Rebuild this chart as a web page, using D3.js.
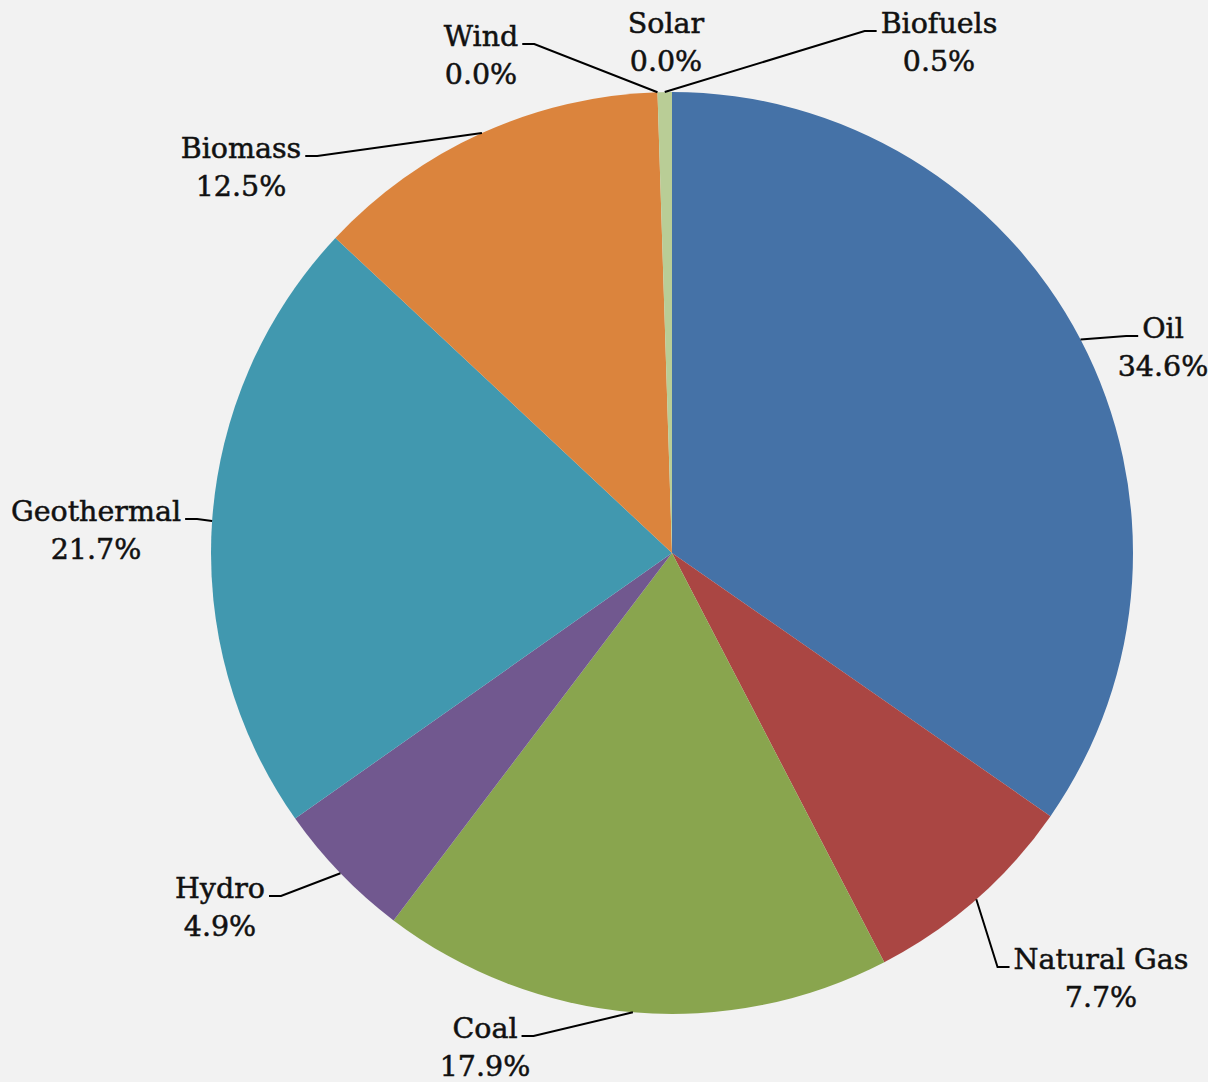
<!DOCTYPE html>
<html>
<head>
<meta charset="utf-8">
<script src="https://cdn.jsdelivr.net/npm/d3@7/dist/d3.min.js"></script>
<style>
  html, body { margin: 0; padding: 0; background: #f2f2f2; }
  svg { display: block; }
  .lbl { font-family: "DejaVu Serif", "Liberation Serif", serif; font-size: 28.5px; fill: #111; stroke: #111; stroke-width: 0.5px; }
</style>
</head>
<body>
<svg id="chart" width="1208" height="1082"></svg>
<script>
// Energy mix shares (%), clockwise from 12 o'clock
const categories = ["Oil", "Natural Gas", "Coal", "Hydro", "Geothermal", "Biomass", "Wind", "Solar", "Biofuels"];
const shares     = [34.6, 7.7, 17.9, 4.9, 21.7, 12.5, 0.0, 0.0, 0.5];
const colors     = ["#4572a7", "#aa4643", "#89a54e", "#71588f", "#4198af", "#db843d", "#93a9cf", "#d19392", "#b9cd96"];

// Label placement: centre x, first baseline y, side where the leader line attaches
const labelLayout = {
  "Oil":         { x: 1163, y: 338,  side: "left"  },
  "Natural Gas": { x: 1101, y: 969,  side: "left"  },
  "Coal":        { x: 485,  y: 1038, side: "right" },
  "Hydro":       { x: 220,  y: 898,  side: "right" },
  "Geothermal":  { x: 96,   y: 521,  side: "right" },
  "Biomass":     { x: 241,  y: 158,  side: "right" },
  "Wind":        { x: 481,  y: 46,   side: "right" },
  "Solar":       { x: 666,  y: 33,   side: null    },
  "Biofuels":    { x: 939,  y: 33,   side: "left"  }
};

const W = 1208, H = 1082;
const cx = 672, cy = 553, R = 461;
const lineGap = 38;

const svg = d3.select("#chart");
svg.append("rect").attr("width", W).attr("height", H).attr("fill", "#f2f2f2");

const data = categories.map((c, i) => ({ name: c, value: shares[i], color: colors[i] }));

const pie = d3.pie().value(d => d.value).sort(null);
const arcs = pie(data);
const arc = d3.arc().innerRadius(0).outerRadius(R);

const g = svg.append("g").attr("transform", `translate(${cx},${cy})`);
g.selectAll("path.slice")
  .data(arcs)
  .join("path")
  .attr("class", "slice")
  .attr("d", arc)
  .attr("fill", d => d.data.color);

// Labels with name and percentage
const labels = svg.append("g");
const fmt = d3.format(".1f");
arcs.forEach(a => {
  const L = labelLayout[a.data.name];
  const t = labels.append("text").attr("class", "lbl").attr("text-anchor", "middle");
  t.append("tspan").attr("x", L.x).attr("y", L.y).text(a.data.name);
  t.append("tspan").attr("x", L.x).attr("y", L.y + lineGap).text(fmt(a.data.value) + "%");

  if (!L.side) return;
  const nameW = t.select("tspan").node().getComputedTextLength();
  const mid = (a.startAngle + a.endAngle) / 2;
  const ax = cx + R * Math.sin(mid), ay = cy - R * Math.cos(mid);
  const ly = L.y - 2;
  const ex = L.side === "left" ? L.x - nameW / 2 - 4 : L.x + nameW / 2 + 4;
  const bx = L.side === "left" ? ex - 12 : ex + 12;
  svg.append("path")
    .attr("d", d3.line()([[ax, ay], [bx, ly], [ex, ly]]))
    .attr("fill", "none")
    .attr("stroke", "#000")
    .attr("stroke-width", 2);
});
</script>
</body>
</html>
